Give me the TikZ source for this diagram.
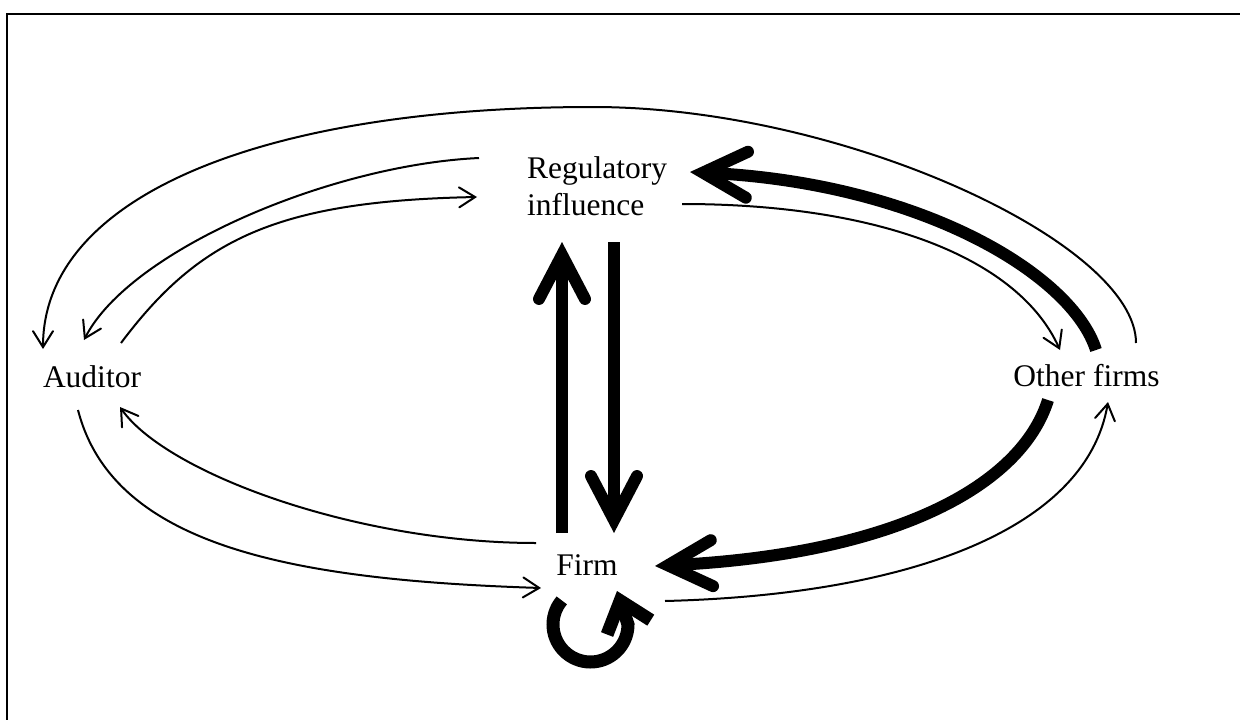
\documentclass[tikz,border=0pt]{standalone}
\usepackage{fontspec}
\setmainfont{Liberation Serif}
\usetikzlibrary{arrows.meta,calc}
\begin{document}
\begin{tikzpicture}[x=1pt,y=-1pt,
  lbl/.style={inner sep=0pt, font=\fontsize{31.5}{37}\selectfont},
  thinarr/.style={line width=2pt, -{Straight Barb[length=16pt,width=20pt,line cap=round,line join=miter]}},
  thickarr/.style={line width=12pt, -{Straight Barb[length=44pt,width=46pt,line cap=round,line join=miter]}},
  looparr/.style={line width=13pt, -{Straight Barb[length=28pt,width=46pt,line cap=butt,line join=miter]}},
  frame/.style={line width=2pt}
]
\useasboundingbox (0,0) rectangle (1240,720);
\draw[frame] (7,720) -- (7,14) -- (1240,14);

\node[lbl, anchor=west, align=left] (reg) at (527,186) {Regulatory\\influence};
\node[lbl, anchor=base] (aud) at (92,387) {Auditor};
\node[lbl, anchor=base] (oth) at (1086.5,386) {Other firms};
\node[lbl, anchor=base] (firm) at (587,575) {Firm};

% outer arc: other firms -> auditor
\draw[thinarr] ($(oth.base)+(49.5,-43)$) .. controls (1136,243) and (843,107) .. (593,107)
  .. controls (265,107) and (43,195) .. ($(aud.base)+(-49,-38)$);
% regulatory -> auditor
\draw[thinarr] ($(reg.west)+(-48,-28)$) .. controls (329,165) and (129,251) .. ($(aud.base)+(-8,-47)$);
% auditor -> regulatory
\draw[thinarr] ($(aud.base)+(29,-44)$) .. controls (199,239) and (277,201) .. ($(reg.west)+(-50,11)$);
% regulatory -> other firms
\draw[thinarr] ($(reg.west)+(155,18)$) .. controls (882,204) and (1019,259) .. ($(oth.base)+(-26.5,-36)$);
% other firms -> regulatory (thick)
\draw[thickarr] ($(oth.base)+(9.5,-36)$) .. controls (1072,274) and (920,183) .. ($(reg.west)+(163,-14)$);
% other firms -> firm (thick)
\draw[thickarr] ($(oth.base)+(-38.5,14)$) .. controls (1021,486) and (895,554) .. ($(firm.base)+(68,-9)$);
% firm -> other firms
\draw[thinarr] ($(firm.base)+(78,26)$) .. controls (905,595) and (1086,531) .. ($(oth.base)+(21.5,16)$);
% firm -> auditor
\draw[thinarr] ($(firm.base)+(-51,-32)$) .. controls (356,543) and (166,473) .. ($(aud.base)+(28,20)$);
% auditor -> firm
\draw[thinarr] ($(aud.base)+(-14,23)$) .. controls (113,546) and (291,580) .. ($(firm.base)+(-46,13)$);
% vertical thick arrows
\draw[thickarr] ($(firm.base)+(-25,-42)$) -- ($(reg.west)+(35,56)$);
\draw[thickarr] ($(reg.west)+(87,56)$) -- ($(firm.base)+(27,-42)$);
% self loop
\draw[looparr] ($(firm.base)+(3.5,49.5)+(140:37.5pt)$) arc[start angle=140, end angle=360, radius=37.5pt]
  -- ($(firm.base)+(30,16)$);
\end{tikzpicture}
\end{document}
